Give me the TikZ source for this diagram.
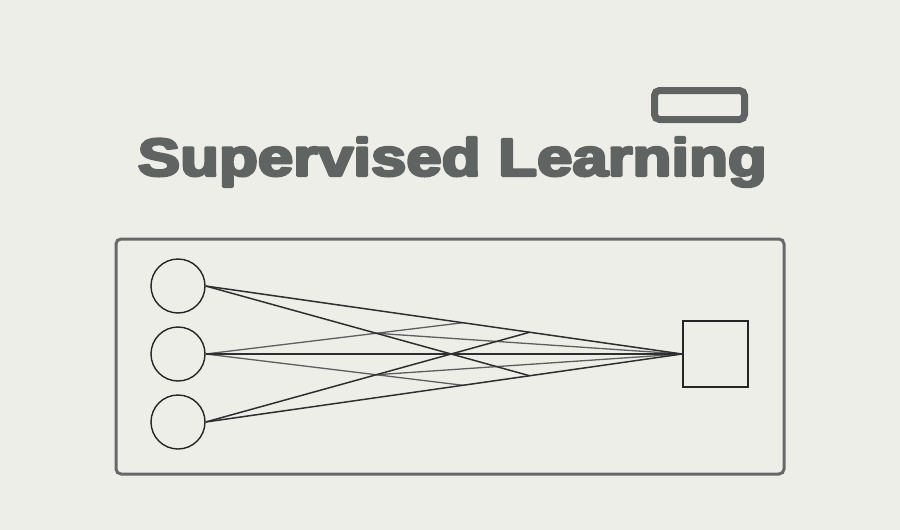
\documentclass[tikz,border=0pt]{standalone}
\usepackage{fontspec}
\setmainfont{Liberation Sans}
\usetikzlibrary{calc}
\definecolor{bg}{HTML}{EEEEE9}
\definecolor{titlegray}{HTML}{5F6362}
\definecolor{framegray}{HTML}{676968}
\definecolor{inkdark}{HTML}{252525}
\definecolor{linedark}{HTML}{2E3030}
\definecolor{linegray}{HTML}{5C5F5E}
\tikzset{
  neuron/.style={circle,draw=inkdark,line width=1.4pt,minimum size=54pt,inner sep=0pt},
  outbox/.style={rectangle,draw=inkdark,line width=1.8pt,minimum width=65pt,minimum height=66pt,inner sep=0pt},
  darkedge/.style={draw=linedark,line width=1.5pt},
  grayedge/.style={draw=linegray,line width=1.3pt},
  mainedge/.style={draw=linedark,line width=1.8pt},
}
\newcommand{\heavytext}[1]{\special{pdf:code 2 Tr 2.6 w 1 j}#1\special{pdf:code 0 Tr}}
\begin{document}
\begin{tikzpicture}[x=1pt,y=-1pt]
\useasboundingbox (0,0) rectangle (900,530);
\fill[bg] (0,0) rectangle (900,530);
% title
\node[anchor=base west,inner sep=0pt,text=titlegray,xscale=1.2,font=\fontsize{53}{58}\selectfont\bfseries] (title) at (137.5,175.7) {\heavytext{Supervised Learning}};
% icon
\draw[titlegray,line width=7pt,rounded corners=5pt] (654.5,90.5) rectangle (744.5,119.5);
% frame
\draw[framegray,line width=3pt,rounded corners=5pt] (116,239) rectangle (784,474);
% nodes
\node[neuron] (n1) at (178,286) {};
\node[neuron] (n2) at (178,354) {};
\node[neuron] (n3) at (178,422) {};
\node[outbox] (out) at (715.5,354) {};
\coordinate (A) at (n1.east);
\coordinate (B) at (n2.east);
\coordinate (C) at (n3.east);
\coordinate (S) at (out.west);
\coordinate (P2) at ($(A)!0.68!(S)$);
\coordinate (P3) at ($(C)!0.68!(S)$);
\coordinate (Q1) at ($(A)!0.54!(S)$);
\coordinate (Q4) at ($(C)!0.54!(S)$);
\coordinate (R1) at (intersection cs: first line={(A)--(P3)}, second line={(B)--(Q1)});
\coordinate (R4) at (intersection cs: first line={(C)--(P2)}, second line={(B)--(Q4)});
% edges
\draw[grayedge] (B) -- (Q1);
\draw[grayedge] (B) -- (Q4);
\draw[grayedge] (R1) -- (S);
\draw[grayedge] (R4) -- (S);
\draw[darkedge] (A) -- (P3);
\draw[darkedge] (C) -- (P2);
\draw[darkedge] (A) -- (S);
\draw[darkedge] (C) -- (S);
\draw[mainedge] (B) -- (S);
\end{tikzpicture}
\end{document}
